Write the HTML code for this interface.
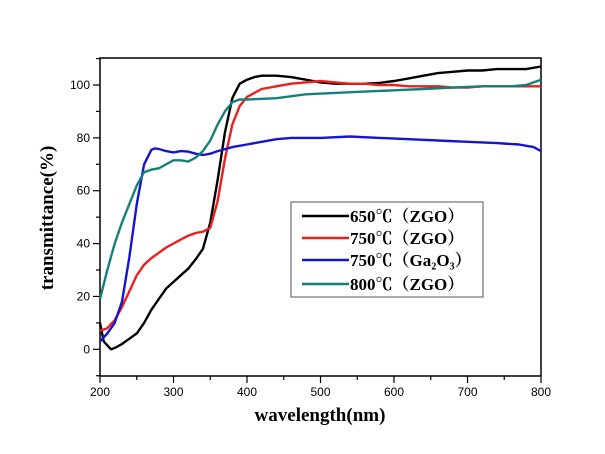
<!DOCTYPE html>
<html><head><meta charset="utf-8"><style>
html,body{margin:0;padding:0;background:#fff;}
svg{display:block;font-family:"Liberation Serif","Noto Serif CJK SC",serif;}
</style></head><body>
<svg id="chart" width="605" height="454">
<rect x="100" y="58" width="441" height="318" fill="#fff" stroke="#000" stroke-width="1.5"/>
<g id="ticks"></g><g id="series"></g>
<text x="320" y="421" text-anchor="middle" font-size="19" font-weight="bold">wavelength(nm)</text>
<text transform="translate(53,218) rotate(-90)" text-anchor="middle" font-size="19" font-weight="bold">transmittance(%)</text>
<g>
<rect x="291" y="202" width="192" height="95" fill="#fff" stroke="#555" stroke-width="1"/>
<g id="legend"></g>
</g>
</svg>
<script>
const xTicks=[200,300,400,500,600,700,800];
const yTicks=[0,20,40,60,80,100];
const wl650=[200,205,215,220,230,240,250,260,270,280,290,300,310,320,330,340,350,360,370,380,390,400,410,420,440,460,480,500,520,540,560,580,600,620,640,660,680,700,720,740,760,780,800];
const t650=[10,3,0,0.5,2,4,6,10,15,19,23,25.5,28,30.5,34,38,48,64,82,95,100.5,102,103,103.5,103.5,103,102,101,100.5,100.5,100.5,100.8,101.5,102.5,103.5,104.5,105,105.5,105.5,106,106,106,107];
const wl750=[200,210,220,230,240,250,260,270,280,290,300,310,320,330,340,350,360,370,380,390,400,420,440,460,480,500,520,540,560,580,600,620,640,660,680,700,720,740,760,780,800];
const t750=[7,8,11,16,22,28,32,34.5,36.5,38.5,40,41.5,43,44,44.5,46,56,72,85,92,95.5,98.5,99.5,100.5,101,101.5,101,100.5,100.5,100,100,99.5,99.5,99.5,99,99,99.5,99.5,99.5,99.5,99.5];
const wlGa=[200,210,220,230,240,250,260,270,275,280,290,300,310,320,330,340,350,360,380,400,420,440,460,500,540,580,620,660,700,740,770,790,800];
const tGa=[3,6,10,18,35,55,70,75.5,76,75.8,75,74.5,75,74.8,74,73.5,74,75,76.5,77.5,78.5,79.5,80,80,80.5,80,79.5,79,78.5,78,77.5,76.5,75];
const wl800=[200,210,220,230,240,250,260,270,280,290,300,310,320,330,340,350,360,370,380,390,400,440,480,520,560,600,640,680,720,760,780,800];
const t800=[19,30,40,48,55,62,67,68,68.5,70,71.5,71.5,71,72.5,75,79,85,90,93.5,94.5,94.5,95,96.5,97,97.5,98,98.5,99,99.5,99.5,100,102];
const labels=["650℃（ZGO）","750℃（ZGO）","750℃（Ga₂O₃）","800℃（ZGO）"];
const colors=["#000","#e8201e","#1515d0","#14807a"];
const NS="http://www.w3.org/2000/svg";
function X(v){return 100+(v-200)*441/600;}
function Y(v){return 349.3-v*2.643;}
const tk=document.getElementById('ticks');
function mk(tag,at,parent){const e=document.createElementNS(NS,tag);for(const k in at)e.setAttribute(k,at[k]);parent.appendChild(e);return e;}
for(let v=200;v<=800;v+=50){const l=mk('line',{x1:X(v),x2:X(v),y1:376,y2:v%100?380:383,stroke:'#000','stroke-width':1.2},tk);

}
xTicks.forEach(v=>{const t=mk('text',{x:X(v),y:396,'text-anchor':'middle','font-size':12,'font-family':'Liberation Sans, sans-serif'},tk);t.textContent=v;

});
for(let v=-10;v<=110;v+=10){const l=mk('line',{x1:v%20?96:93,x2:100,y1:Y(v),y2:Y(v),stroke:'#000','stroke-width':1.2},tk);

}
yTicks.forEach(v=>{const t=mk('text',{x:90,y:Y(v)+4,'text-anchor':'end','font-size':12,'font-family':'Liberation Sans, sans-serif'},tk);t.textContent=v;

});
const sg=document.getElementById('series');
const data=[[wl650,t650],[wl750,t750],[wlGa,tGa],[wl800,t800]];
const names=['series-650-zgo','series-750-zgo','series-750-ga2o3','series-800-zgo'];
data.forEach((d,i)=>{const pts=d[0].map((w,j)=>X(w).toFixed(1)+','+Y(d[1][j]).toFixed(1)).join(' ');
const p=mk('polyline',{points:pts,fill:'none',stroke:colors[i],'stroke-width':2.4,'stroke-linejoin':'round'},sg);

});
const lg=document.getElementById('legend');
const ly=[216,238,260,284];
labels.forEach((s,i)=>{const l=mk('line',{x1:302,x2:349,y1:ly[i],y2:ly[i],stroke:colors[i],'stroke-width':2.5},lg);


const t=mk('text',{x:350,y:ly[i]+6,'font-size':17,'font-weight':'bold'},lg);t.textContent=s;

});
</script>
</body></html>
